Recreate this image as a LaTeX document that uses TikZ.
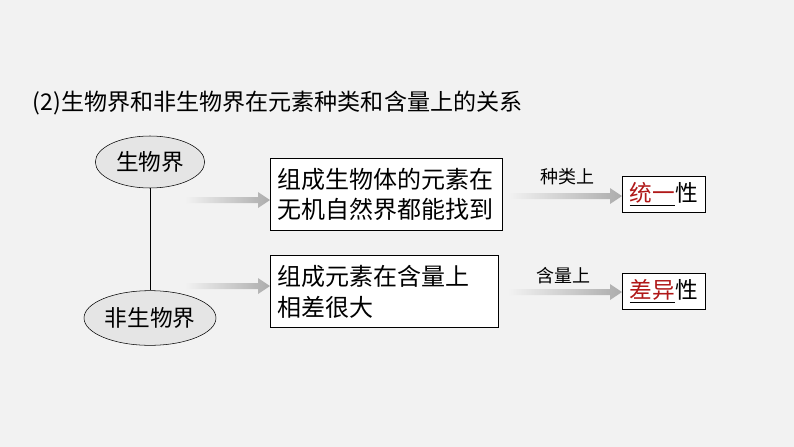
\documentclass[tikz,border=0pt]{standalone}
\usepackage{fontspec}
\setmainfont{Noto Sans CJK SC}
\usetikzlibrary{positioning,shapes.geometric}
\definecolor{bgcol}{HTML}{F2F2F2}
\definecolor{ansred}{HTML}{B01818}
\tikzset{
  textbox/.style={draw,thick,fill=white,align=left,text width=#1,inner sep=5pt,font=\fontsize{18}{23}\selectfont},
  world/.style={ellipse,draw,fill=gray!20,inner sep=1pt,font=\fontsize{17}{20}\selectfont},
  smallbox/.style={draw,thick,fill=white,inner sep=3pt,font=\fontsize{17}{20}\selectfont},
  cue/.style={font=\fontsize{13.5}{15}\selectfont}
}
\newcommand{\fadearrow}[3]{% from, to, y
  \shade[left color=bgcol,right color=gray!65] (#1,#3-3) -- (#2-12,#3-3) -- (#2-12,#3-8) -- (#2,#3) -- (#2-12,#3+8) -- (#2-12,#3+3) -- (#1,#3+3) -- cycle;}
\begin{document}
\begin{tikzpicture}[x=0.75pt,y=-0.75pt]
  \fill[bgcol] (0,0) rectangle (794,447);
  \node[anchor=west,font=\fontsize{17.3}{20}\selectfont] (title) at (28,103) {(2)生物界和非生物界在元素种类和含量上的关系};
  % left side
  \node[world,minimum width=82pt,minimum height=39pt] (life) at (150,162) {生物界};
  \node[world,minimum width=96pt,minimum height=41pt] (nonlife) at (150,318) {非生物界};
  \draw (life) -- (nonlife);
  \fadearrow{185}{270}{200}
  \fadearrow{185}{270}{286}
  % middle boxes
  \node[textbox=164pt,anchor=north west,minimum height=54pt] (same) at (270,158) {组成生物体的元素在\\无机自然界都能找到};
  \node[textbox=161pt,anchor=north west,minimum height=54pt] (diff) at (270,255) {组成元素在含量上\\相差很大};
  % right side
  \fadearrow{508}{622}{196}
  \fadearrow{508}{622}{292}
  \node[cue] (kind) at (567,177) {种类上};
  \node[cue] (amount) at (563,276) {含量上};
  \node[smallbox,anchor=north west,minimum width=62pt,minimum height=27pt] (unity) at (622,176) {\underline{\textcolor{ansred}{统一}}性};
  \node[smallbox,anchor=north west,minimum width=62pt,minimum height=27pt] (differ) at (622,273) {\underline{\textcolor{ansred}{差异}}性};
\end{tikzpicture}
\end{document}
